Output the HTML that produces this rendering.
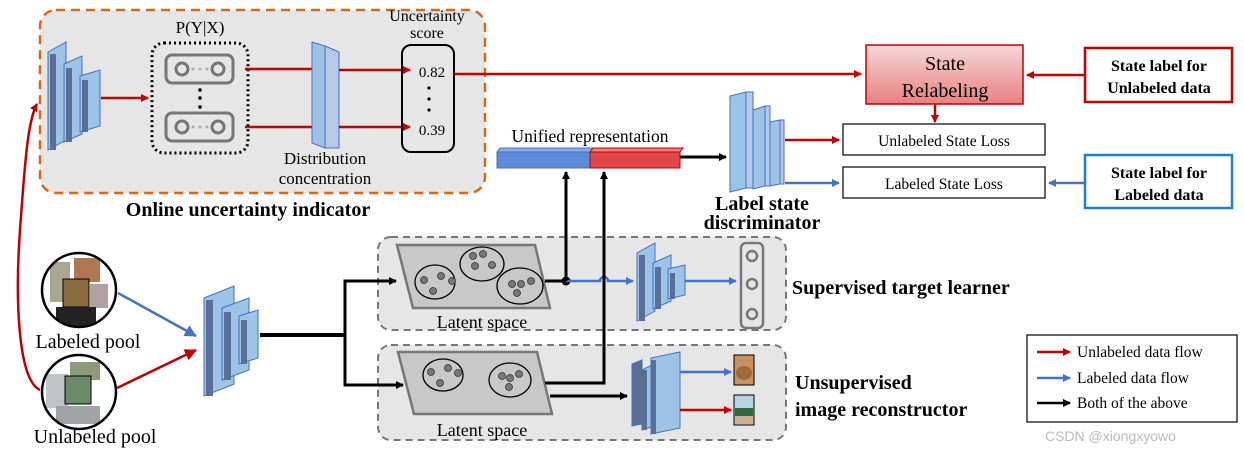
<!DOCTYPE html>
<html><head><meta charset="utf-8"><style>
html,body{margin:0;padding:0;background:#fff}
svg{display:block;font-family:"Liberation Serif",serif}
</style></head><body>
<svg width="1244" height="455" viewBox="0 0 1244 455" xmlns="http://www.w3.org/2000/svg">
<defs>
<marker id="ar" markerWidth="8" markerHeight="8" refX="7" refY="4" orient="auto" markerUnits="userSpaceOnUse"><path d="M0,0 L8,4 L0,8 z" fill="#c00000"/></marker>
<marker id="ab" markerWidth="8" markerHeight="8" refX="7" refY="4" orient="auto" markerUnits="userSpaceOnUse"><path d="M0,0 L8,4 L0,8 z" fill="#4472c4"/></marker>
<marker id="ak" markerWidth="8" markerHeight="8" refX="7" refY="4" orient="auto" markerUnits="userSpaceOnUse"><path d="M0,0 L8,4 L0,8 z" fill="#000"/></marker>
<marker id="arL" markerWidth="12" markerHeight="12" refX="11" refY="6" orient="auto" markerUnits="userSpaceOnUse"><path d="M0,0 L12,6 L0,12 z" fill="#c00000"/></marker>
<marker id="abL" markerWidth="12" markerHeight="12" refX="11" refY="6" orient="auto" markerUnits="userSpaceOnUse"><path d="M0,0 L12,6 L0,12 z" fill="#4472c4"/></marker>
<linearGradient id="pk" x1="0" y1="0" x2="0" y2="1"><stop offset="0" stop-color="#f8d8d8"/><stop offset="1" stop-color="#e88080"/></linearGradient>
<clipPath id="c1"><circle cx="79" cy="290" r="36"/></clipPath>
<clipPath id="c2"><circle cx="79" cy="392" r="36"/></clipPath>
</defs>

<rect x="40" y="10" width="445" height="183" rx="16" fill="#e6e6e6" stroke="#d2691e" stroke-width="2.5" stroke-dasharray="9,6"/>
<g transform="translate(48,42)">
<polygon points="0,10 18,0 18,98 0,108" fill="#9dc3e6" stroke="#4472c4"/><rect x="2" y="12" width="6" height="96" fill="#5a6f96"/>
<polygon points="16,22 34,14 34,92 16,100" fill="#9dc3e6" stroke="#4472c4"/><rect x="18" y="26" width="6" height="74" fill="#5a6f96"/>
<polygon points="32,34 52,28 52,84 32,90" fill="#9dc3e6" stroke="#4472c4"/><rect x="34" y="38" width="6" height="52" fill="#5a6f96"/>
</g>
<line x1="101" y1="98" x2="148" y2="98" stroke="#c00000" stroke-width="2.5" marker-end="url(#ar)"/>
<text x="200" y="33" font-size="17" text-anchor="middle">P(Y|X)</text>
<rect x="152" y="43" width="96" height="110" rx="12" fill="none" stroke="#000" stroke-width="3" stroke-dasharray="2,3"/>
<g fill="none" stroke="#777" stroke-width="3">
<rect x="166" y="55" width="67" height="28" rx="6"/><rect x="166" y="113" width="67" height="28" rx="6"/>
<circle cx="182" cy="69" r="6"/><circle cx="218" cy="69" r="6"/><circle cx="182" cy="127" r="6"/><circle cx="218" cy="127" r="6"/>
</g>
<g fill="#aaa"><circle cx="193" cy="69" r="1.5"/><circle cx="200" cy="69" r="1.5"/><circle cx="207" cy="69" r="1.5"/><circle cx="193" cy="127" r="1.5"/><circle cx="200" cy="127" r="1.5"/><circle cx="207" cy="127" r="1.5"/></g>
<g fill="#000"><circle cx="200" cy="90" r="1.8"/><circle cx="200" cy="98" r="1.8"/><circle cx="200" cy="107" r="1.8"/></g>
<line x1="245" y1="69" x2="317" y2="69" stroke="#c00000" stroke-width="2.5"/>
<line x1="245" y1="127" x2="317" y2="127" stroke="#c00000" stroke-width="2.5"/>
<polygon points="312,42 325,46 325,148 312,143" fill="#9dc3e6" stroke="#4472c4"/><polygon points="325,46 339,52 339,148 325,148" fill="#b5c8e8" stroke="#4472c4"/>
<line x1="339" y1="70" x2="410" y2="70" stroke="#c00000" stroke-width="2.5" marker-end="url(#ar)"/>
<line x1="339" y1="127" x2="410" y2="127" stroke="#c00000" stroke-width="2.5" marker-end="url(#ar)"/>
<text x="325" y="164" font-size="17" text-anchor="middle">Distribution</text>
<text x="325" y="184" font-size="17" text-anchor="middle">concentration</text>
<text x="427" y="21" font-size="16" text-anchor="middle">Uncertainty</text>
<text x="427" y="38" font-size="16" text-anchor="middle">score</text>
<rect x="402" y="45" width="52" height="107" rx="9" fill="none" stroke="#000" stroke-width="2"/>
<text x="432" y="77" font-size="15" text-anchor="middle">0.82</text>
<text x="432" y="135" font-size="15" text-anchor="middle">0.39</text>
<g fill="#000"><circle cx="429" cy="88" r="1.6"/><circle cx="429" cy="99" r="1.6"/><circle cx="429" cy="110" r="1.6"/></g>
<text x="248" y="216" font-size="20" font-weight="bold" text-anchor="middle">Online uncertainty indicator</text>

<line x1="454" y1="74" x2="861" y2="74" stroke="#c00000" stroke-width="2.5" marker-end="url(#ar)"/>
<rect x="866" y="45" width="157" height="59" fill="url(#pk)" stroke="#c00000" stroke-width="1.5"/>
<text x="945" y="70" font-size="20" text-anchor="middle">State</text>
<text x="945" y="97" font-size="20" text-anchor="middle">Relabeling</text>
<rect x="1085" y="48" width="147" height="54" fill="#fff" stroke="#c00000" stroke-width="2.5"/>
<text x="1159" y="71" font-size="16" font-weight="bold" text-anchor="middle">State label for</text>
<text x="1159" y="93" font-size="16" font-weight="bold" text-anchor="middle">Unlabeled data</text>
<line x1="1085" y1="75" x2="1027" y2="75" stroke="#c00000" stroke-width="2.5" marker-end="url(#ar)"/>
<line x1="935" y1="104" x2="935" y2="122" stroke="#c00000" stroke-width="2.5" marker-end="url(#ar)"/>
<rect x="843" y="124" width="202" height="31" fill="#fff" stroke="#000" stroke-width="1.2"/>
<text x="944" y="146" font-size="15.5" text-anchor="middle">Unlabeled State Loss</text>
<rect x="843" y="167" width="202" height="31" fill="#fff" stroke="#000" stroke-width="1.2"/>
<text x="944" y="189" font-size="15.5" text-anchor="middle">Labeled State Loss</text>
<rect x="1085" y="155" width="147" height="53" fill="#fff" stroke="#1f7fd0" stroke-width="2.5"/>
<text x="1159" y="178" font-size="16" font-weight="bold" text-anchor="middle">State label for</text>
<text x="1159" y="200" font-size="16" font-weight="bold" text-anchor="middle">Labeled data</text>
<line x1="1085" y1="183" x2="1049" y2="183" stroke="#4472c4" stroke-width="2.5" marker-end="url(#ab)"/>

<text x="590" y="142" font-size="17.5" text-anchor="middle">Unified representation</text>
<polygon points="497,152 500,148 593,148 590,152" fill="#8aaee0" stroke="#4472c4"/>
<rect x="497" y="152" width="93" height="16" fill="#5b8ad6" stroke="#4472c4"/>
<polygon points="590,152 593,148 683,148 680,152" fill="#f08080" stroke="#c00000"/>
<rect x="590" y="152" width="90" height="16" fill="#e04848" stroke="#c00000"/>
<line x1="680" y1="157" x2="726" y2="157" stroke="#000" stroke-width="3" marker-end="url(#ak)"/>
<polygon points="730,96 746,92 746,188 730,192" fill="#9dc3e6" stroke="#4472c4"/><rect x="746" y="92" width="7" height="96" fill="#b5c8e8" stroke="#4472c4"/>
<polygon points="753,110 765,106 765,186 753,189" fill="#9dc3e6" stroke="#4472c4"/><rect x="765" y="106" width="5" height="80" fill="#b5c8e8" stroke="#4472c4"/>
<polygon points="770,122 780,120 780,184 770,186" fill="#9dc3e6" stroke="#4472c4"/><rect x="780" y="120" width="4" height="64" fill="#b5c8e8" stroke="#4472c4"/>
<line x1="785" y1="140" x2="839" y2="140" stroke="#c00000" stroke-width="2.5" marker-end="url(#ar)"/>
<line x1="785" y1="183" x2="839" y2="183" stroke="#4472c4" stroke-width="2.5" marker-end="url(#ab)"/>
<text x="762" y="210" font-size="20" font-weight="bold" text-anchor="middle">Label state</text>
<text x="762" y="229" font-size="20" font-weight="bold" text-anchor="middle">discriminator</text>

<rect x="378" y="237" width="408" height="93" rx="13" fill="#e6e6e6" stroke="#777" stroke-width="2" stroke-dasharray="7,5"/>
<polygon points="397,245 535,245 550,308 413,308" fill="#c8c8c8" stroke="#777" stroke-width="2.5"/>
<g fill="none" stroke="#000" stroke-width="1.3"><ellipse cx="435" cy="282" rx="20" ry="17"/><ellipse cx="482" cy="264" rx="22" ry="17"/><ellipse cx="520" cy="286" rx="23" ry="18"/></g>
<g fill="#777" stroke="#333" stroke-width="0.8"><circle cx="424" cy="280" r="3.5"/><circle cx="441" cy="276" r="3.5"/><circle cx="452" cy="281" r="3.5"/><circle cx="433" cy="291" r="3.5"/><circle cx="473" cy="256" r="3.5"/><circle cx="483" cy="254" r="3.5"/><circle cx="475" cy="266" r="3.5"/><circle cx="492" cy="265" r="3.5"/><circle cx="512" cy="284" r="3.5"/><circle cx="521" cy="284" r="3.5"/><circle cx="531" cy="281" r="3.5"/><circle cx="517" cy="293" r="3.5"/></g>
<text x="482" y="328" font-size="18" text-anchor="middle">Latent space</text>
<line x1="545" y1="281" x2="566" y2="281" stroke="#000" stroke-width="3"/>
<circle cx="566" cy="281" r="4.5" fill="#000"/>
<path d="M566,281 L600,281 A4,4 0 0 1 608,281 L633,281" fill="none" stroke="#4472c4" stroke-width="2.5" marker-end="url(#ab)"/>
<g transform="translate(637,243)">
<polygon points="0,10 18,0 18,68 0,78" fill="#9dc3e6" stroke="#4472c4"/><rect x="2" y="12" width="6" height="66" fill="#5a6f96"/>
<polygon points="16,20 34,12 34,58 16,66" fill="#9dc3e6" stroke="#4472c4"/><rect x="18" y="24" width="6" height="42" fill="#5a6f96"/>
<polygon points="31,26 48,22 48,52 31,56" fill="#9dc3e6" stroke="#4472c4"/><rect x="33" y="30" width="5" height="26" fill="#5a6f96"/>
</g>
<line x1="685" y1="281" x2="736" y2="281" stroke="#4472c4" stroke-width="2.5" marker-end="url(#ab)"/>
<rect x="741" y="243" width="22" height="85" rx="5" fill="none" stroke="#777" stroke-width="2.5"/>
<g fill="none" stroke="#777" stroke-width="2.5"><circle cx="752" cy="256" r="5"/><circle cx="752" cy="284" r="5"/><circle cx="752" cy="314" r="5"/></g>
<text x="792" y="294" font-size="20" font-weight="bold">Supervised target learner</text>

<rect x="378" y="345" width="408" height="95" rx="13" fill="#e6e6e6" stroke="#777" stroke-width="2" stroke-dasharray="7,5"/>
<polygon points="398,352 537,352 552,414 414,414" fill="#c8c8c8" stroke="#777" stroke-width="2.5"/>
<g fill="none" stroke="#000" stroke-width="1.3"><ellipse cx="443" cy="375" rx="20" ry="16"/><ellipse cx="510" cy="380" rx="21" ry="17"/></g>
<g fill="#777" stroke="#333" stroke-width="0.8"><circle cx="431" cy="372" r="3.5"/><circle cx="448" cy="368" r="3.5"/><circle cx="458" cy="373" r="3.5"/><circle cx="440" cy="383" r="3.5"/><circle cx="502" cy="376" r="3.5"/><circle cx="510" cy="378" r="3.5"/><circle cx="519" cy="374" r="3.5"/><circle cx="509" cy="387" r="3.5"/></g>
<text x="482" y="436" font-size="18" text-anchor="middle">Latent space</text>
<path d="M545,383 L604,383 L604,172" fill="none" stroke="#000" stroke-width="3" marker-end="url(#ak)"/>
<path d="M566,281 L566,172" fill="none" stroke="#000" stroke-width="3" marker-end="url(#ak)"/>
<line x1="550" y1="396" x2="627" y2="396" stroke="#000" stroke-width="3" marker-end="url(#ak)"/>
<g transform="translate(632,352)">
<polygon points="0,12 10,8 10,72 0,74" fill="#5a6f96" stroke="#4472c4"/>
<polygon points="10,18 22,12 22,74 10,78" fill="#9dc3e6" stroke="#4472c4"/><rect x="10" y="18" width="5" height="60" fill="#5a6f96"/>
<polygon points="19,6 48,0 48,76 19,82" fill="#9dc3e6" stroke="#4472c4"/><rect x="19" y="8" width="5" height="74" fill="#5a6f96"/>
</g>
<line x1="680" y1="372" x2="731" y2="372" stroke="#4472c4" stroke-width="2.5" marker-end="url(#ab)"/>
<line x1="680" y1="410" x2="731" y2="410" stroke="#c00000" stroke-width="2.5" marker-end="url(#ar)"/>
<rect x="734" y="355" width="20" height="30" fill="#c89060" stroke="#000"/><ellipse cx="744" cy="373" rx="8" ry="7" fill="#a06a3a"/>
<rect x="734" y="395" width="20" height="30" fill="#b8d4e0" stroke="#000"/><rect x="735" y="408" width="18" height="8" fill="#2e6a40"/><rect x="735" y="416" width="18" height="8" fill="#c8b090"/>
<text x="795" y="389" font-size="20" font-weight="bold">Unsupervised</text>
<text x="795" y="416" font-size="20" font-weight="bold">image reconstructor</text>

<path d="M40,390 C18,380 15,300 20,230 C25,160 28,120 37,104" fill="none" stroke="#c00000" stroke-width="2.5" marker-end="url(#ar)"/>
<circle cx="79" cy="290" r="37" fill="#fff"/>
<g clip-path="url(#c1)">
<rect x="50" y="262" width="20" height="40" fill="#a8a890"/><rect x="74" y="258" width="26" height="24" fill="#b07850"/><rect x="90" y="284" width="18" height="24" fill="#b0a0a0"/><rect x="63" y="279" width="26" height="28" fill="#8a6a40" stroke="#000"/><rect x="56" y="307" width="40" height="22" fill="#222"/>
</g>
<circle cx="79" cy="290" r="37" fill="none" stroke="#000" stroke-width="2.5"/>
<text x="88" y="348" font-size="20" text-anchor="middle">Labeled pool</text>
<circle cx="79" cy="392" r="37" fill="#fff"/>
<g clip-path="url(#c2)">
<rect x="46" y="374" width="22" height="34" fill="#c0c4c4"/><rect x="70" y="362" width="30" height="18" fill="#8a9a7a"/><rect x="56" y="406" width="44" height="18" fill="#a0a4a4"/><rect x="65" y="376" width="26" height="28" fill="#6a8a6a" stroke="#000"/>
</g>
<circle cx="79" cy="392" r="37" fill="none" stroke="#000" stroke-width="2.5"/>
<text x="95" y="443" font-size="20" text-anchor="middle">Unlabeled pool</text>
<line x1="118" y1="293" x2="196" y2="336" stroke="#4472c4" stroke-width="2.5" marker-end="url(#abL)"/>
<line x1="117" y1="388" x2="196" y2="350" stroke="#c00000" stroke-width="2.5" marker-end="url(#arL)"/>
<g transform="translate(204,286)">
<polygon points="0,12 30,0 30,98 0,110" fill="#9dc3e6" stroke="#4472c4"/><rect x="2" y="14" width="7" height="96" fill="#5a6f96"/>
<polygon points="18,22 45,12 45,84 18,94" fill="#9dc3e6" stroke="#4472c4"/><rect x="20" y="26" width="7" height="68" fill="#5a6f96"/>
<polygon points="35,30 54,24 54,72 35,78" fill="#9dc3e6" stroke="#4472c4"/><rect x="37" y="34" width="6" height="44" fill="#5a6f96"/>
</g>
<line x1="260" y1="335" x2="345" y2="335" stroke="#000" stroke-width="4"/>
<path d="M396,281 L345,281 L345,385 L400,385" fill="none" stroke="#000" stroke-width="3"/>
<line x1="380" y1="281" x2="396" y2="281" stroke="#000" stroke-width="3" marker-end="url(#ak)"/>
<line x1="380" y1="385" x2="403" y2="385" stroke="#000" stroke-width="3" marker-end="url(#ak)"/>

<rect x="1027" y="335" width="210" height="87" fill="#fff" stroke="#000" stroke-width="1.2"/>
<line x1="1037" y1="352" x2="1070" y2="352" stroke="#c00000" stroke-width="2.5" marker-end="url(#ar)"/>
<line x1="1037" y1="378" x2="1070" y2="378" stroke="#4472c4" stroke-width="2.5" marker-end="url(#ab)"/>
<line x1="1037" y1="403" x2="1070" y2="403" stroke="#000" stroke-width="2.5" marker-end="url(#ak)"/>
<text x="1077" y="357" font-size="15.5">Unlabeled data flow</text>
<text x="1077" y="383" font-size="15.5">Labeled data flow</text>
<text x="1077" y="408" font-size="15.5">Both of the above</text>
<text x="1045" y="441" font-size="14" fill="#bbb" font-family="Liberation Sans, sans-serif">CSDN @xiongxyowo</text>
</svg>
</body></html>
